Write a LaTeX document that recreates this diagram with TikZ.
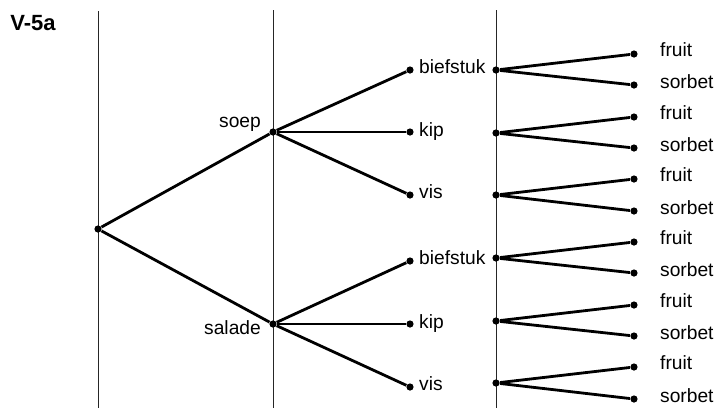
\documentclass[tikz,border=0pt]{standalone}
\usepackage{fontspec}
\setmainfont{Liberation Sans}
\usepackage{tikz}
\tikzstyle{dot} = [circle, fill = black, inner sep = 0pt, minimum size = 3.6pt]
\tikzstyle{branch} = [line width = 1.4pt]
\tikzstyle{stage} = [line width = 0.5pt, black!85]
\tikzstyle{lbl} = [inner sep = 1pt, font = \fontsize{9.6}{11}\selectfont, yshift = 1.5pt]

\begin{document}
\begin{tikzpicture}[x = 0.5pt, y = -0.5pt]

\useasboundingbox (0,0) rectangle (714,408);

\node (title) [anchor = base west, inner sep = 0pt, font = \fontsize{11}{13}\selectfont\bfseries]
	at (10,30) {V-5a};

% stage lines
\draw [stage] (98,11) -- (98,408);
\draw [stage] (273,10) -- (273,408);
\draw [stage] (496,10) -- (496,408);

\node (root) [dot] at (98,229) {};

\node (soep) [dot, label = {[lbl, yshift = 2.25pt, label distance = 2.9pt]left:soep}] at (273,132) {};
\node (salade) [dot, label = {[lbl, yshift = -3.5pt, label distance = 2.9pt]left:salade}] at (273,324) {};

\node (b1) [dot, label = {[lbl, label distance = 1.4pt]right:biefstuk}] at (410,70) {};
\node (k1) [dot, label = {[lbl, yshift = -1.2pt, label distance = 1.4pt]right:kip}] at (410,132) {};
\node (v1) [dot, label = {[lbl, label distance = 1.4pt]right:vis}] at (410,195) {};
\node (b2) [dot, label = {[lbl, label distance = 1.4pt]right:biefstuk}] at (410,261) {};
\node (k2) [dot, label = {[lbl, yshift = -1.2pt, label distance = 1.4pt]right:kip}] at (410,324) {};
\node (v2) [dot, label = {[lbl, label distance = 1.4pt]right:vis}] at (410,387) {};

\node (b1r) [dot] at (496,70) {};
\node (k1r) [dot] at (496,133) {};
\node (v1r) [dot] at (496,195) {};
\node (b2r) [dot] at (496,258) {};
\node (k2r) [dot] at (496,321) {};
\node (v2r) [dot] at (496,383) {};

\node (f1) [dot, label = {[lbl, yshift = 0.5pt, label distance = 9.9pt]right:fruit}] at (634,54) {};
\node (s1) [dot, label = {[lbl, label distance = 9.9pt]right:sorbet}] at (634,85) {};
\node (f2) [dot, label = {[lbl, yshift = 0.5pt, label distance = 9.9pt]right:fruit}] at (634,117) {};
\node (s2) [dot, label = {[lbl, label distance = 9.9pt]right:sorbet}] at (634,148) {};
\node (f3) [dot, label = {[lbl, yshift = 0.5pt, label distance = 9.9pt]right:fruit}] at (634,179) {};
\node (s3) [dot, label = {[lbl, label distance = 9.9pt]right:sorbet}] at (634,211) {};
\node (f4) [dot, label = {[lbl, yshift = 0.5pt, label distance = 9.9pt]right:fruit}] at (634,242) {};
\node (s4) [dot, label = {[lbl, label distance = 9.9pt]right:sorbet}] at (634,273) {};
\node (f5) [dot, label = {[lbl, yshift = 0.5pt, label distance = 9.9pt]right:fruit}] at (634,305) {};
\node (s5) [dot, label = {[lbl, label distance = 9.9pt]right:sorbet}] at (634,336) {};
\node (f6) [dot, label = {[lbl, yshift = 0.5pt, label distance = 9.9pt]right:fruit}] at (634,367) {};
\node (s6) [dot, label = {[lbl, label distance = 9.9pt]right:sorbet}] at (634,399) {};

\draw [branch] (root) -- (soep);
\draw [branch] (root) -- (salade);

\draw [branch] (soep) -- (b1);
\draw [branch] (soep) -- (k1);
\draw [branch] (soep) -- (v1);
\draw [branch] (salade) -- (b2);
\draw [branch] (salade) -- (k2);
\draw [branch] (salade) -- (v2);

\draw [branch] (b1r) -- (f1);
\draw [branch] (b1r) -- (s1);
\draw [branch] (k1r) -- (f2);
\draw [branch] (k1r) -- (s2);
\draw [branch] (v1r) -- (f3);
\draw [branch] (v1r) -- (s3);
\draw [branch] (b2r) -- (f4);
\draw [branch] (b2r) -- (s4);
\draw [branch] (k2r) -- (f5);
\draw [branch] (k2r) -- (s5);
\draw [branch] (v2r) -- (f6);
\draw [branch] (v2r) -- (s6);

\end{tikzpicture}
\end{document}
